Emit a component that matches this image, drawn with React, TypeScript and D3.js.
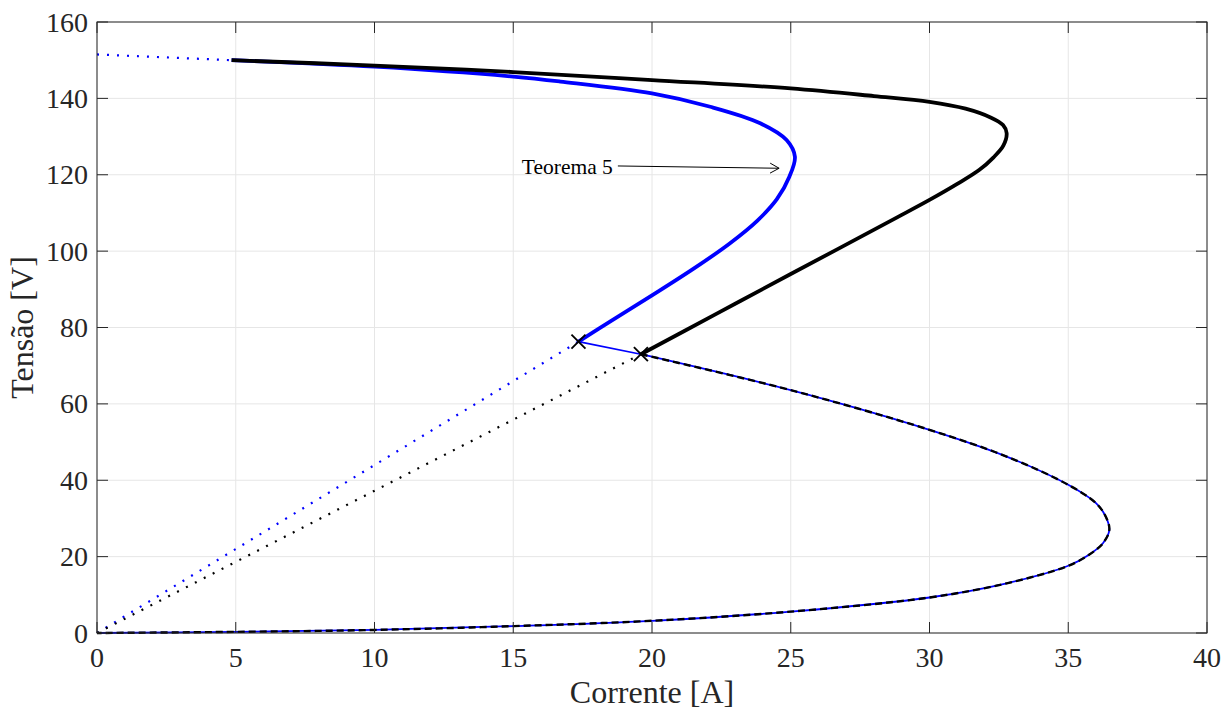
import React from "react";
import * as d3 from "d3";

type P = [number, number];

const xTicks = [0, 5, 10, 15, 20, 25, 30, 35, 40];
const yTicks = [0, 20, 40, 60, 80, 100, 120, 140, 160];

const blueUpper: P[] = [
  [4.85, 150.0], [10, 148.3], [15, 145.7], [16.7, 144.4], [20, 141.3], [22.1, 137.8],
  [23.9, 133.5], [24.85, 129.1], [25.15, 124.7], [24.95, 119.5], [24.5, 113.6],
  [23.8, 108.0], [22.8, 102.0], [21.5, 95.4], [20, 88.4], [18.5, 81.6], [17.35, 76.3],
];

const blackUpper: P[] = [
  [4.85, 150.0], [10, 148.6], [15, 146.9], [20, 144.8], [25, 142.6], [28, 140.6],
  [30, 139.1], [31.3, 137.3], [32.2, 135.0], [32.65, 133.0], [32.78, 130.9],
  [32.66, 127.6], [32.3, 124.5], [31.8, 121.3], [31, 117.6], [30, 113.4],
  [28.8, 108.7], [25, 94.0], [22.3, 83.5], [19.6, 73.0],
];

const lowerBranch: P[] = [
  [19.6, 73.0], [25, 63.6], [30, 53.2], [32.78, 46.2], [35, 38.8], [36.0, 34.0],
  [36.35, 30.5], [36.48, 27.0], [36.25, 23.5], [35.75, 20.5], [35, 17.6],
  [32.78, 13.0], [30, 9.3], [25, 5.6], [20, 3.2], [15, 1.8], [10, 0.8], [5, 0.3], [0, 0],
];

const blueTopDotted: P[] = [[0, 151.5], [4.85, 150.0]];
const blueOriginDotted: P[] = [[0, 0], [17.35, 76.3]];
const blackOriginDotted: P[] = [[0, 0], [19.6, 73.0]];
const blueConnector: P[] = [[17.35, 76.3], [19.6, 73.0]];
const markers: P[] = [[17.35, 76.3], [19.6, 73.0]];

const annotationText = "Teorema 5";
const arrowFrom: P = [18.77, 122.3];
const arrowTo: P = [24.58, 121.7];

const W = 1226;
const H = 711;
const L = 97, R = 1207, T = 22, B = 633;
const axisColor = "#262626";
const font = "'Liberation Serif', 'Times New Roman', serif";

export default function App() {
  const x = d3.scaleLinear().domain([0, 40]).range([L, R]);
  const y = d3.scaleLinear().domain([0, 160]).range([B, T]);
  const lineS = d3.line<P>().x((d) => x(d[0])).y((d) => y(d[1]));
  const curve = d3
    .line<P>()
    .x((d) => x(d[0]))
    .y((d) => y(d[1]))
    .curve(d3.curveCatmullRom.alpha(0.5));

  const ax0 = x(arrowFrom[0]), ay0 = y(arrowFrom[1]);
  const ax1 = x(arrowTo[0]), ay1 = y(arrowTo[1]);
  const ang = Math.atan2(ay1 - ay0, ax1 - ax0);
  const hl = 9, hw = 5;
  const hx1 = ax1 - hl * Math.cos(ang) + hw * Math.sin(ang);
  const hy1 = ay1 - hl * Math.sin(ang) - hw * Math.cos(ang);
  const hx2 = ax1 - hl * Math.cos(ang) - hw * Math.sin(ang);
  const hy2 = ay1 - hl * Math.sin(ang) + hw * Math.cos(ang);

  const tl = 11;

  return (
    <svg
      width={W}
      height={H}
      style={{ position: "absolute", left: 0, top: 0, background: "#fff" }}
    >
      <rect x={0} y={0} width={W} height={H} fill="#fff" />
      {/* grid */}
      <g stroke="#e6e6e6" strokeWidth={1}>
        {xTicks.map((t) => (
          <line key={"gx" + t} x1={x(t)} x2={x(t)} y1={T} y2={B} />
        ))}
        {yTicks.map((t) => (
          <line key={"gy" + t} x1={L} x2={R} y1={y(t)} y2={y(t)} />
        ))}
      </g>

      {/* dotted lines */}
      <g fill="none" strokeWidth={2.2} strokeDasharray="2,8">
        <path d={lineS(blueTopDotted) || ""} stroke="#0000ff" />
        <path d={lineS(blueOriginDotted) || ""} stroke="#0000ff" />
        <path d={lineS(blackOriginDotted) || ""} stroke="#000" />
      </g>

      {/* lower branch */}
      <path d={curve(lowerBranch) || ""} fill="none" stroke="#0000ff" strokeWidth={1.8} />
      <path
        d={curve(lowerBranch) || ""}
        fill="none"
        stroke="#000"
        strokeWidth={2.4}
        strokeDasharray="7,4"
      />

      {/* upper branches */}
      <path d={curve(blueUpper) || ""} fill="none" stroke="#0000ff" strokeWidth={3.8} />
      <path d={curve(blackUpper) || ""} fill="none" stroke="#000" strokeWidth={3.8} />
      <path d={lineS(blueConnector) || ""} fill="none" stroke="#0000ff" strokeWidth={1.6} />

      {/* markers */}
      <g stroke="#000" strokeWidth={1.8}>
        {markers.map((m, i) => {
          const cx = x(m[0]), cy = y(m[1]);
          const s = 7;
          return (
            <g key={"m" + i}>
              <line x1={cx - s} y1={cy - s} x2={cx + s} y2={cy + s} />
              <line x1={cx - s} y1={cy + s} x2={cx + s} y2={cy - s} />
            </g>
          );
        })}
      </g>

      {/* annotation */}
      <line x1={ax0} y1={ay0} x2={ax1} y2={ay1} stroke="#000" strokeWidth={1} />
      <path
        d={`M${hx1},${hy1}L${ax1},${ay1}L${hx2},${hy2}`}
        fill="none"
        stroke="#000"
        strokeWidth={1}
      />
      <text
        x={ax0 - 5}
        y={ay0 + 8}
        textAnchor="end"
        fontFamily={font}
        fontSize={21.5}
        fill="#000"
      >
        {annotationText}
      </text>

      {/* axes box + ticks */}
      <g stroke={axisColor} strokeWidth={1} fill="none">
        <rect x={L} y={T} width={R - L} height={B - T} />
        {xTicks.map((t) => (
          <g key={"tx" + t}>
            <line x1={x(t)} x2={x(t)} y1={B} y2={B - tl} />
            <line x1={x(t)} x2={x(t)} y1={T} y2={T + tl} />
          </g>
        ))}
        {yTicks.map((t) => (
          <g key={"ty" + t}>
            <line x1={L} x2={L + tl} y1={y(t)} y2={y(t)} />
            <line x1={R} x2={R - tl} y1={y(t)} y2={y(t)} />
          </g>
        ))}
      </g>

      <g fontFamily={font} fontSize={28} fill={axisColor}>
        {xTicks.map((t) => (
          <text key={"lx" + t} x={x(t)} y={667} textAnchor="middle">
            {t}
          </text>
        ))}
        {yTicks.map((t) => (
          <text key={"ly" + t} x={88} y={y(t) + 9.5} textAnchor="end">
            {t}
          </text>
        ))}
      </g>

      <text
        x={(L + R) / 2}
        y={703}
        textAnchor="middle"
        fontFamily={font}
        fontSize={32}
        fill={axisColor}
      >
        Corrente [A]
      </text>
      <text
        transform={`translate(33, ${(T + B) / 2}) rotate(-90)`}
        textAnchor="middle"
        fontFamily={font}
        fontSize={32}
        fill={axisColor}
      >
        Tensão [V]
      </text>
    </svg>
  );
}
